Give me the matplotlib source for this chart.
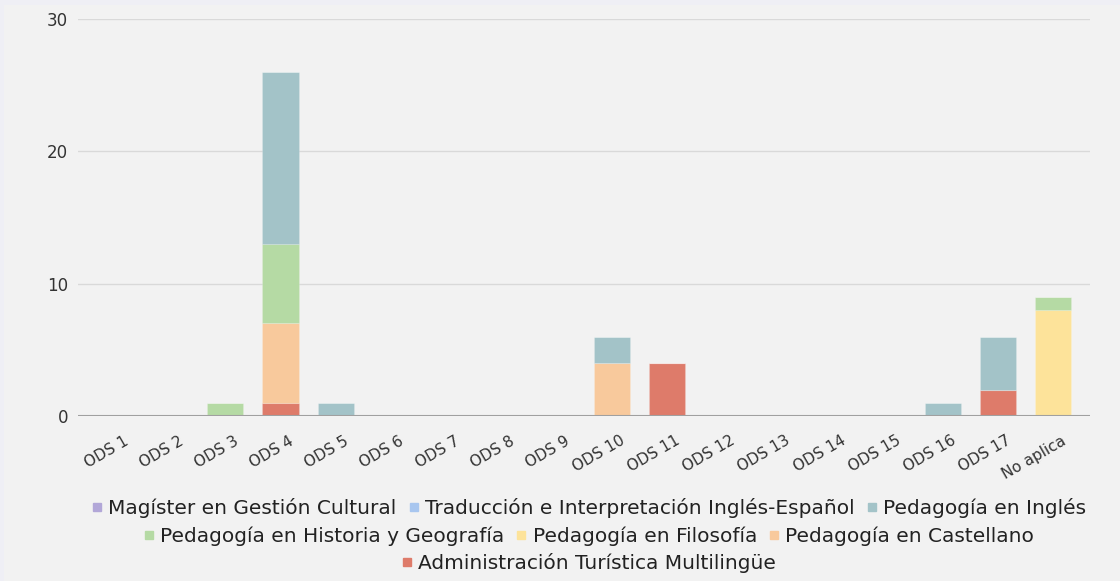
import matplotlib
matplotlib.use("Agg")
import matplotlib.pyplot as plt
from matplotlib.lines import Line2D
from matplotlib.patches import Rectangle
import matplotlib.transforms as mtransforms
import numpy as np

plt.rcParams["font.family"] = ["DejaVu Sans"]

# categorias del eje x
categorias = ["ODS 1", "ODS 2", "ODS 3", "ODS 4", "ODS 5", "ODS 6", "ODS 7", "ODS 8", "ODS 9",
              "ODS 10", "ODS 11", "ODS 12", "ODS 13", "ODS 14", "ODS 15", "ODS 16", "ODS 17", "No aplica"]

# series (orden de apilado, de abajo hacia arriba)
administracion = [0, 0, 0, 1, 0, 0, 0, 0, 0, 0, 4, 0, 0, 0, 0, 0, 2, 0]
castellano     = [0, 0, 0, 6, 0, 0, 0, 0, 0, 4, 0, 0, 0, 0, 0, 0, 0, 0]
filosofia      = [0, 0, 0, 0, 0, 0, 0, 0, 0, 0, 0, 0, 0, 0, 0, 0, 0, 8]
historia       = [0, 0, 1, 6, 0, 0, 0, 0, 0, 0, 0, 0, 0, 0, 0, 0, 0, 1]
ingles         = [0, 0, 0, 13, 1, 0, 0, 0, 0, 2, 0, 0, 0, 0, 0, 1, 4, 0]
traduccion     = [0] * 18
magister       = [0] * 18

series = [
    ("Administración Turística Multilingüe", administracion, "#de7b6a"),
    ("Pedagogía en Castellano", castellano, "#f8c99c"),
    ("Pedagogía en Filosofía", filosofia, "#fde39a"),
    ("Pedagogía en Historia y Geografía", historia, "#b5daa4"),
    ("Pedagogía en Inglés", ingles, "#a3c3c8"),
    ("Traducción e Interpretación Inglés-Español", traduccion, "#a8c6ef"),
    ("Magíster en Gestión Cultural", magister, "#b2a7d8"),
]

W, H = 1120, 581
fig = plt.figure(figsize=(W / 100, H / 100), dpi=100)
fig.patch.set_facecolor("#f2f2f2")
# borde lila arriba e izquierda
fig.patches.append(Rectangle((0, 1 - 5 / H), 1, 5 / H, transform=fig.transFigure,
                             facecolor="#efeff5", edgecolor="none", zorder=0))
fig.patches.append(Rectangle((0, 0), 4 / W, 1, transform=fig.transFigure,
                             facecolor="#efeff5", edgecolor="none", zorder=0))

x0, x1, ytop, ybot = 78, 1090, 19, 416
ax = fig.add_axes([x0 / W, (H - ybot) / H, (x1 - x0) / W, (ybot - ytop) / H])
ax.set_facecolor("#f2f2f2")

x = np.arange(len(categorias))
bottom = np.zeros(len(categorias))
for nombre, vals, color in series:
    vals = np.array(vals, dtype=float)
    ax.bar(x, vals, 0.655, bottom=bottom, color=color, edgecolor=(1, 1, 1, 0.15),
           linewidth=0.8, zorder=3)
    bottom += vals

ax.set_xlim(-0.67, len(categorias) - 1 + 0.67)
ax.set_ylim(0, 30)
ax.set_yticks([0, 10, 20, 30])
ax.grid(axis="y", color="#d9d9d9", linewidth=1, zorder=0)
ax.axhline(0, color="#a0a0a0", linewidth=1.5, zorder=4)
for s in ax.spines.values():
    s.set_visible(False)
ax.tick_params(axis="y", length=0, pad=7, labelsize=12, labelcolor="#333333")
ax.tick_params(axis="x", length=0, pad=17, labelsize=11, labelcolor="#333333")
ax.set_xticks(x)
ax.set_xticklabels(categorias, rotation=30, ha="right", va="center", rotation_mode="anchor")
offset = mtransforms.ScaledTranslation(12 / 100, 0, fig.dpi_scale_trans)
for lbl in ax.get_xticklabels():
    lbl.set_transform(lbl.get_transform() + offset)

# leyenda en tres filas centradas
filas = [
    ["Magíster en Gestión Cultural", "Traducción e Interpretación Inglés-Español", "Pedagogía en Inglés"],
    ["Pedagogía en Historia y Geografía", "Pedagogía en Filosofía", "Pedagogía en Castellano"],
    ["Administración Turística Multilingüe"],
]
colores = {n: c for n, _, c in series}
ys = [508, 536, 563]
for fila, yy in zip(filas, ys):
    handles = [Line2D([], [], marker="s", linestyle="", color=colores[n], markersize=6) for n in fila]
    fig.legend(handles, fila, loc="center", bbox_to_anchor=(589 / W, 1 - yy / H), ncol=len(fila),
               frameon=False, fontsize=14.5, handlelength=0.5, handletextpad=0.3,
               columnspacing=0.6, borderpad=0, labelcolor="#222222")

fig.savefig("out.png", dpi=100, facecolor=fig.get_facecolor())
